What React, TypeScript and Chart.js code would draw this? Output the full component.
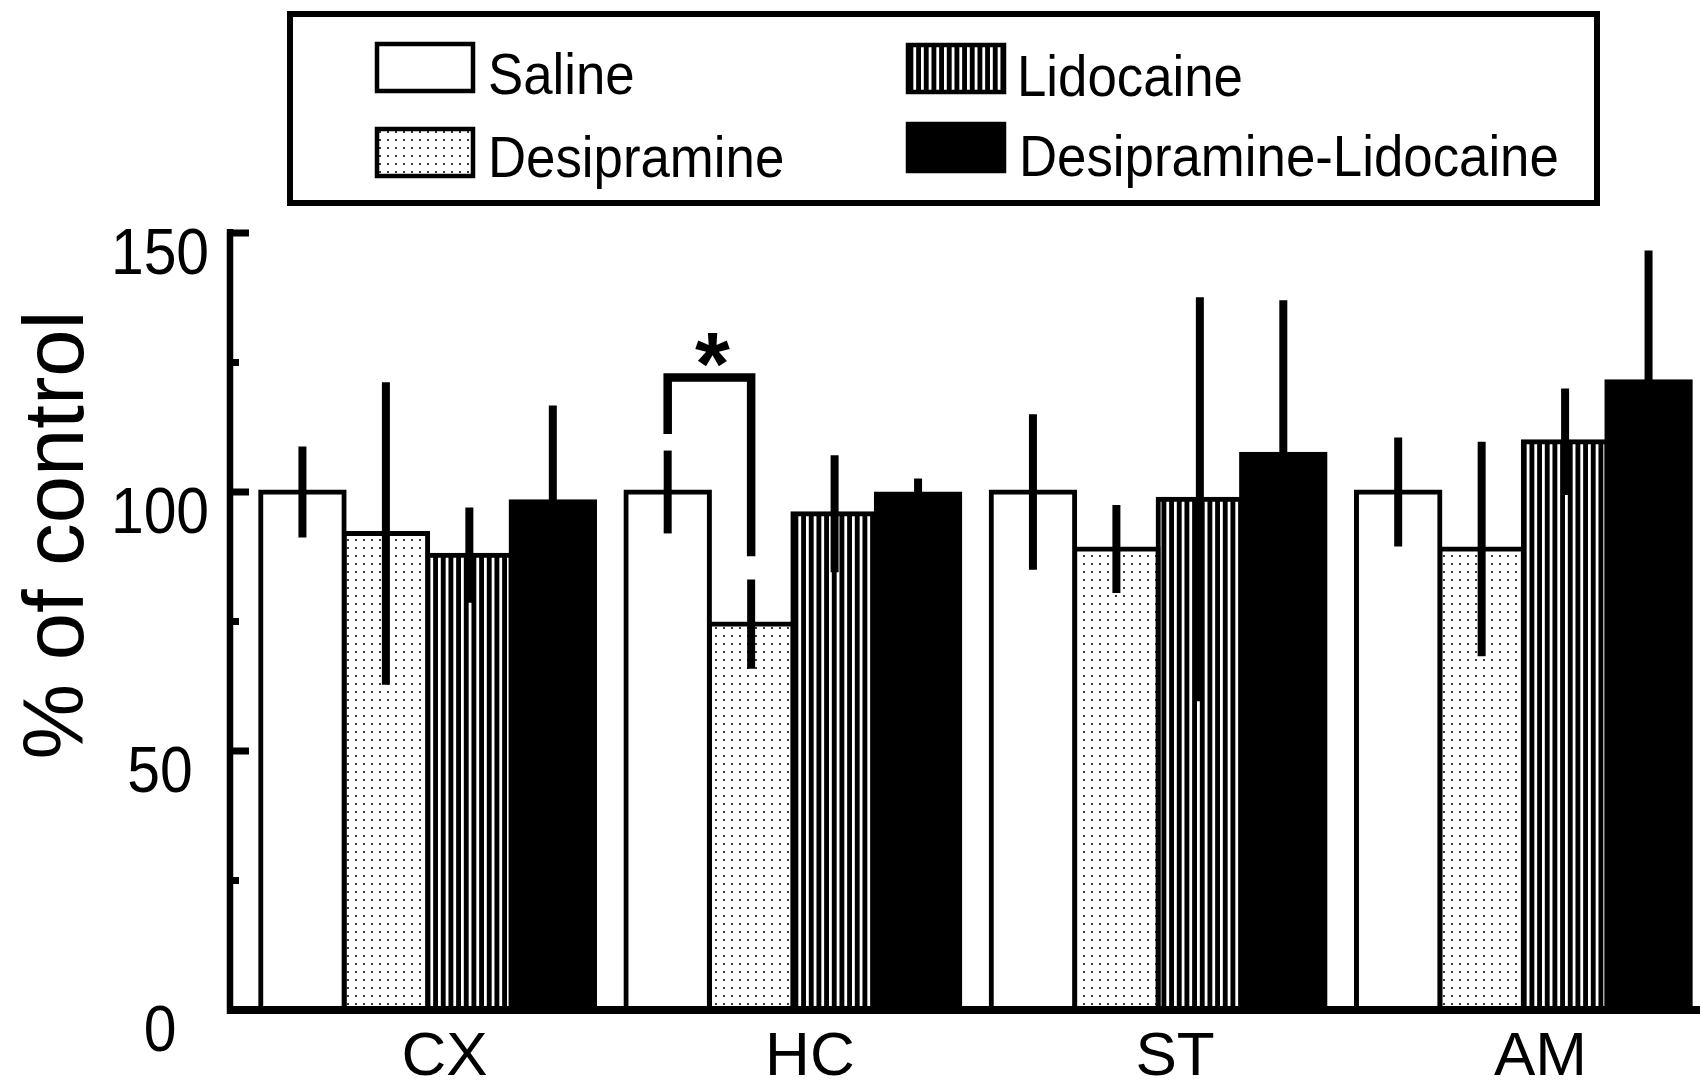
import React, { useEffect, useRef } from "react";
import { Chart, registerables } from "chart.js";

Chart.register(...registerables);

// ---------------- data ----------------
const categories = ["CX", "HC", "ST", "AM"];
const seriesNames = ["Saline", "Desipramine", "Lidocaine", "Desipramine-Lidocaine"];

const salineValues = [100, 100, 100, 100];
const salineErrors = [8.8, 8.0, 15.0, 10.5];

const desipramineValues = [92.0, 74.5, 89.0, 89.0];
const desipramineErrors = [29.2, 8.6, 8.5, 20.7];

const lidocaineValues = [87.8, 95.8, 98.6, 109.7];
const lidocaineErrors = [9.2, 11.3, 39.0, 10.3];

const comboValues = [98.1, 99.6, 107.3, 121.3];
const comboErrors = [18.6, 3.0, 29.7, 25.3];

const yMajorTicks = [0, 50, 100, 150];
const yMinorTicks = [25, 75, 125];
const yAxisTitle = "% of control";

// significance bracket (HC: Saline vs Desipramine), in data units
const bracketCategory = 1;
const bracketLeftEnd = 111.2;
const bracketTop = 122.1;
const bracketRightEnd = 87.6;
const bracketMark = "*";

// ---------------- helpers ----------------
const FONT = '"Liberation Sans", Arial, Helvetica, sans-serif';

function makeDotPattern(): CanvasPattern {
  const c = document.createElement("canvas");
  c.width = 8;
  c.height = 8;
  const g = c.getContext("2d")!;
  g.fillStyle = "#ffffff";
  g.fillRect(0, 0, 8, 8);
  g.fillStyle = "#3a3a3a";
  g.fillRect(3, 3, 2, 2);
  return g.createPattern(c, "repeat")!;
}

function makeStripePattern(): CanvasPattern {
  const c = document.createElement("canvas");
  c.width = 23;
  c.height = 8;
  const g = c.getContext("2d")!;
  g.fillStyle = "#000000";
  g.fillRect(0, 0, 23, 8);
  g.fillStyle = "#ffffff";
  for (let k = 0; k < 3; k++) {
    g.fillRect(k * (23 / 3) + 1, 0, 2.8, 8);
  }
  return g.createPattern(c, "repeat")!;
}

function drawText(
  ctx: CanvasRenderingContext2D,
  text: string,
  x: number,
  y: number,
  size: number,
  align: CanvasTextAlign,
  scaleX = 1
) {
  ctx.save();
  ctx.translate(x, y);
  ctx.scale(scaleX, 1);
  ctx.font = `${size}px ${FONT}`;
  ctx.textAlign = align;
  ctx.textBaseline = "alphabetic";
  ctx.fillStyle = "#000";
  ctx.fillText(text, 0, 0);
  ctx.restore();
}

export default function App() {
  const ref = useRef<HTMLCanvasElement>(null);

  useEffect(() => {
    const canvas = ref.current!;
    const dots = makeDotPattern();
    const stripes = makeStripePattern();
    const fills: (string | CanvasPattern)[] = ["#ffffff", dots, stripes, "#000000"];
    const valuesList = [salineValues, desipramineValues, lidocaineValues, comboValues];
    const errorsList = [salineErrors, desipramineErrors, lidocaineErrors, comboErrors];

    const overlay = {
      id: "overlay",
      afterDraw(chart: any) {
        const ctx: CanvasRenderingContext2D = chart.ctx;
        const xs = chart.scales.x;
        const ys = chart.scales.y;
        ctx.save();
        ctx.strokeStyle = "#000";
        ctx.fillStyle = "#000";
        ctx.lineCap = "butt";

        // error bars
        ctx.lineWidth = 8;
        valuesList.forEach((vals, i) => {
          const meta = chart.getDatasetMeta(i);
          vals.forEach((v, j) => {
            const e = errorsList[i][j];
            const x = meta.data[j].x;
            ctx.beginPath();
            ctx.moveTo(x, ys.getPixelForValue(v + e));
            ctx.lineTo(x, ys.getPixelForValue(v - e));
            ctx.stroke();
          });
        });

        // axes
        const axisX = 230;
        const zeroY = ys.getPixelForValue(0);
        ctx.lineWidth = 6.5;
        ctx.beginPath();
        ctx.moveTo(axisX, ys.getPixelForValue(150) - 4);
        ctx.lineTo(axisX, zeroY + 4);
        ctx.stroke();
        ctx.lineWidth = 8;
        ctx.beginPath();
        ctx.moveTo(axisX - 3, zeroY);
        ctx.lineTo(1720, zeroY);
        ctx.stroke();

        // ticks
        yMajorTicks.forEach((t) => {
          if (t === 0) return;
          const y = ys.getPixelForValue(t);
          ctx.lineWidth = 7;
          ctx.beginPath();
          ctx.moveTo(axisX, y);
          ctx.lineTo(249, y);
          ctx.stroke();
        });
        yMinorTicks.forEach((t) => {
          const y = ys.getPixelForValue(t);
          ctx.lineWidth = 7;
          ctx.beginPath();
          ctx.moveTo(axisX, y);
          ctx.lineTo(239, y);
          ctx.stroke();
        });

        // tick labels
        yMajorTicks.forEach((t) => {
          const y = ys.getPixelForValue(t);
          drawText(ctx, String(t), 160, y + 41, 64, "center", 0.92);
        });

        // category labels
        categories.forEach((c, j) => {
          const x = xs.getPixelForValue(j);
          drawText(ctx, c, x + 17, 1075, 62, "center");
        });

        // y axis title
        ctx.save();
        ctx.translate(83, 535);
        ctx.rotate(-Math.PI / 2);
        ctx.font = `85px ${FONT}`;
        ctx.textAlign = "center";
        ctx.textBaseline = "alphabetic";
        ctx.fillText(yAxisTitle, 0, 0);
        ctx.restore();

        // significance bracket
        const xL = chart.getDatasetMeta(0).data[bracketCategory].x;
        const xR = chart.getDatasetMeta(1).data[bracketCategory].x;
        const yTop = ys.getPixelForValue(bracketTop);
        ctx.lineWidth = 8.5;
        ctx.lineJoin = "miter";
        ctx.beginPath();
        ctx.moveTo(xL, ys.getPixelForValue(bracketLeftEnd));
        ctx.lineTo(xL, yTop);
        ctx.lineTo(xR, yTop);
        ctx.lineTo(xR, ys.getPixelForValue(bracketRightEnd));
        ctx.stroke();
        // asterisk
        ctx.save();
        ctx.font = `bold 100px ${FONT}`;
        const m = ctx.measureText(bracketMark);
        const h = m.actualBoundingBoxAscent + m.actualBoundingBoxDescent;
        const size = h > 0 ? (100 * 34) / h : 90;
        ctx.font = `bold ${size}px ${FONT}`;
        const m2 = ctx.measureText(bracketMark);
        ctx.textAlign = "center";
        ctx.textBaseline = "alphabetic";
        ctx.fillText(bracketMark, (xL + xR) / 2 + 3, yTop - 45 + m2.actualBoundingBoxAscent);
        ctx.restore();

        // legend
        ctx.lineWidth = 6;
        ctx.strokeRect(290, 14, 1307, 189);
        const sw = [
          { x: 377, y: 44, text: 488, base: 94 },
          { x: 377, y: 129, text: 488, base: 177 },
          { x: 908, y: 45, text: 1017, base: 96 },
          { x: 908, y: 124, text: 1019, base: 176 },
        ];
        sw.forEach((s, i) => {
          ctx.fillStyle = fills[i] as any;
          ctx.fillRect(s.x, s.y, 96, 47);
          ctx.fillStyle = "#000";
          ctx.lineWidth = 4.5;
          ctx.strokeRect(s.x, s.y, 96, 47);
          drawText(ctx, seriesNames[i], s.text, s.base, 58, "left", 0.91);
        });

        ctx.restore();
      },
    };

    const chart = new Chart(canvas, {
      type: "bar",
      data: {
        labels: categories,
        datasets: seriesNames.map((name, i) => ({
          label: name,
          data: valuesList[i],
          backgroundColor: fills[i] as any,
          borderColor: "#000000",
          borderWidth: 5,
          inflateAmount: 2.5,
          borderSkipped: "start",
          categoryPercentage: 0.914,
          barPercentage: 1,
        })),
      },
      options: {
        responsive: false,
        animation: false,
        events: [],
        layout: { padding: { left: 245, right: 14, top: 233, bottom: 75 } },
        plugins: {
          legend: { display: false },
          tooltip: { enabled: false },
          title: { display: false },
        },
        scales: {
          x: { display: false, offset: true, grid: { display: false } },
          y: { display: false, min: 0, max: 150, grid: { display: false } },
        },
      } as any,
      plugins: [overlay],
    });
    return () => chart.destroy();
  }, []);

  return (
    <div
      style={{
        position: "absolute",
        left: 0,
        top: 0,
        width: 1700,
        height: 1085,
        overflow: "hidden",
        background: "#ffffff",
      }}
    >
      <canvas ref={ref} width={1720} height={1085} style={{ display: "block" }} />
    </div>
  );
}
